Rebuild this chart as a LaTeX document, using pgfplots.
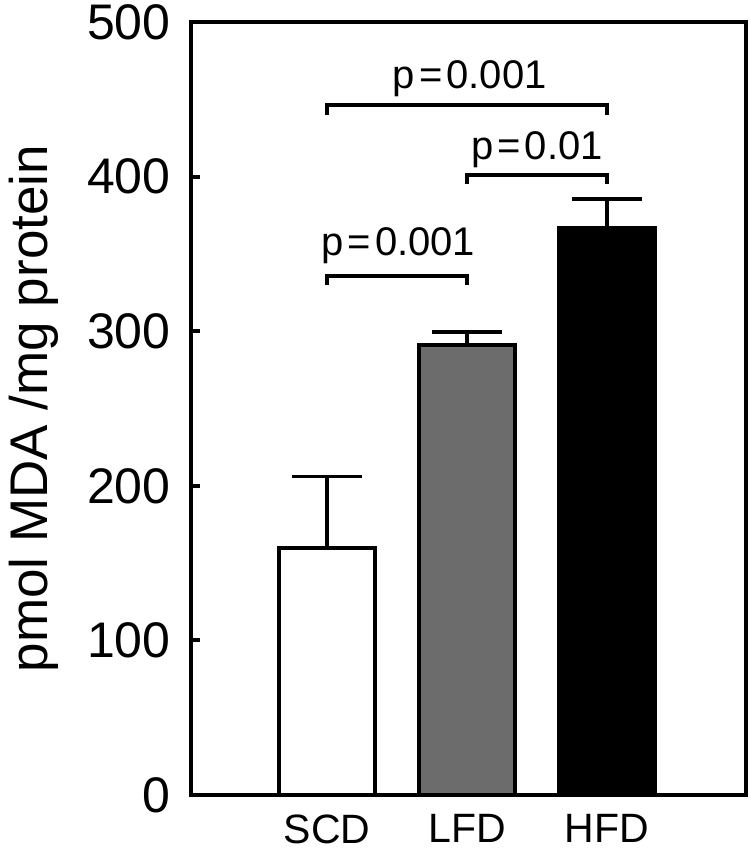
\documentclass[border=0pt]{standalone}
\usepackage{fontspec}
\setmainfont{Liberation Sans}
\usepackage{pgfplots}
\pgfplotsset{compat=1.18}
\definecolor{lfdgray}{RGB}{108,108,108}
\begin{document}
\begin{tikzpicture}
\begin{axis}[
  at={(0,0)}, anchor=south west,
  scale only axis,
  width=277.5pt, height=386.5pt,
  xmin=-0.971, xmax=2.993,
  ymin=0, ymax=500,
  axis line style={line width=2.2pt},
  ytick={0,100,200,300,400,500},
  ytick pos=left,
  tick align=inside,
  major tick length=4.5pt,
  ytick style={line width=2pt, black},
  xtick={0,1,2},
  xticklabels={SCD,LFD,HFD},
  xtick style={draw=none},
  /pgf/number format/assume math mode=true,
  yticklabel style={font=\fontsize{25}{30}\selectfont, inner sep=0pt, anchor=east, xshift=-10pt},
  xticklabel style={font=\fontsize{20.5}{24}\selectfont, inner sep=0pt, anchor=north, yshift=-9.5pt},
  ylabel={pmol MDA /mg protein},
  ylabel style={font=\fontsize{26.5}{30}\selectfont, at={(axis description cs:-0.283,0.5)}, anchor=center, rotate=0, inner sep=0pt},
  clip=false,
  error bars/error bar style={line width=1.7pt, black},
  error bars/error mark options={line width=1.7pt, black, mark size=17.5pt, rotate=90},
]
\addplot[ybar, bar width=48pt, bar shift=0pt, fill=white, draw=black, line width=2pt,
  error bars/.cd, y dir=plus, y explicit]
  coordinates {(0,160) +- (0,46)};
\addplot[ybar, bar width=48pt, bar shift=0pt, fill=lfdgray, draw=black, line width=2pt,
  error bars/.cd, y dir=plus, y explicit]
  coordinates {(1,291) +- (0,8.5)};
\addplot[ybar, bar width=48pt, bar shift=0pt, fill=black, draw=black, line width=2pt,
  error bars/.cd, y dir=plus, y explicit]
  coordinates {(2,367) +- (0,18.5)};
% significance brackets
\addplot[black, line width=2pt, mark=none, line join=miter] coordinates {(0,440) (0,446) (2,446) (2,440)};
\addplot[black, line width=2pt, mark=none, line join=miter] coordinates {(1,395) (1,401) (2,401) (2,395)};
\addplot[black, line width=2pt, mark=none, line join=miter] coordinates {(0,330) (0,336) (1,336) (1,330)};
\node[anchor=base, inner sep=0pt, font=\fontsize{20}{24}\selectfont] at (axis cs:1.02,457) {p\hspace{0.1em}=\hspace{0.1em}0.001};
\node[anchor=base, inner sep=0pt, font=\fontsize{20}{24}\selectfont] at (axis cs:1.5,411) {p\hspace{0.1em}=\hspace{0.1em}0.01};
\node[anchor=base, inner sep=0pt, font=\fontsize{20}{24}\selectfont] at (axis cs:0.51,349) {p\hspace{0.1em}=\hspace{0.1em}0.001};
\end{axis}
\pgfresetboundingbox
\path[use as bounding box] (-95.5pt,-28pt) rectangle (279.5pt,397.5pt);
\end{tikzpicture}
\end{document}
